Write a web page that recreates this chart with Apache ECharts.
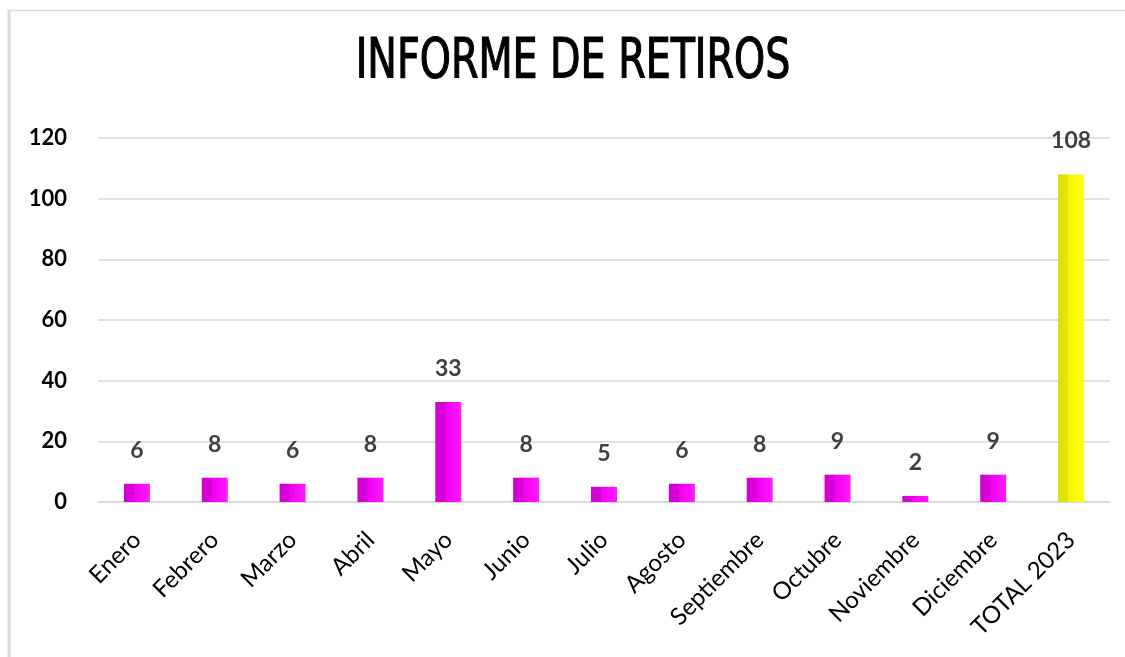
<!DOCTYPE html>
<html>
<head>
<meta charset="utf-8">
<script src="https://cdn.jsdelivr.net/npm/echarts@6/dist/echarts.min.js"></script>
<style>html,body{margin:0;padding:0;background:#fff;}#c{width:1125px;height:657px;}</style>
</head>
<body>
<div id="c"></div>
<script>
var categories = ['Enero','Febrero','Marzo','Abril','Mayo','Junio','Julio','Agosto','Septiembre','Octubre','Noviembre','Diciembre','TOTAL 2023'];
var values = [6, 8, 6, 8, 33, 8, 5, 6, 8, 9, 2, 9, 108];
var yTicks = [0, 20, 40, 60, 80, 100, 120];
var titleText = 'INFORME DE RETIROS';

var magenta = new echarts.graphic.LinearGradient(0, 0, 1, 0, [
  {offset: 0, color: '#d000d0'}, {offset: 0.38, color: '#d800d8'},
  {offset: 0.4, color: '#f000f0'}, {offset: 1, color: '#ff1aff'}
]);
var yellow = new echarts.graphic.LinearGradient(0, 0, 1, 0, [
  {offset: 0, color: '#dcdc00'}, {offset: 0.38, color: '#e6e600'},
  {offset: 0.4, color: '#f5f500'}, {offset: 1, color: '#ffff10'}
]);

var chart = echarts.init(document.getElementById('c'));
chart.setOption({
  animation: false,
  backgroundColor: '#fff',
  graphic: [
    {type: 'line', shape: {x1: 9, y1: 10, x2: 9, y2: 657}, style: {stroke: '#d9d9d9', lineWidth: 3}},
    {type: 'line', shape: {x1: 8, y1: 10.5, x2: 1125, y2: 10.5}, style: {stroke: '#d9d9d9', lineWidth: 1.5}},
    {type: 'text', x: 573, y: 63, scaleX: 0.8, scaleY: 1,
     style: {text: titleText, align: 'center', verticalAlign: 'middle',
             font: 'normal 55px "DejaVu Sans Condensed"', fill: '#000',
             stroke: '#000', lineWidth: 1.2}}
  ],
  grid: {left: 98, right: 15, top: 138, bottom: 155, containLabel: false},
  xAxis: {
    type: 'category',
    data: categories,
    axisLine: {show: true, lineStyle: {color: '#d9d9d9', width: 1.5}},
    axisTick: {show: false},
    axisLabel: {
      rotate: 45, interval: 0, margin: 34,
      fontFamily: 'Lato', fontSize: 24, color: '#000'
    }
  },
  yAxis: {
    type: 'value',
    min: 0, max: 120, interval: 20,
    axisLine: {show: false},
    axisTick: {show: false},
    splitLine: {lineStyle: {color: '#d9d9d9', width: 1.5}},
    axisLabel: {
      margin: 31, fontFamily: 'Lato', fontWeight: 'bold', fontSize: 22, color: '#000',
      formatter: function (v) { return yTicks.indexOf(v) >= 0 ? String(v) : ''; }
    }
  },
  series: [{
    type: 'bar',
    barWidth: 26,
    data: values.map(function (v, i) {
      return {value: v, itemStyle: {color: i === values.length - 1 ? yellow : magenta}};
    }),
    label: {
      show: true, position: 'top', distance: 22,
      fontFamily: 'Lato', fontWeight: 'bold', fontSize: 23, color: '#404040'
    }
  }]
});
</script>
</body>
</html>
